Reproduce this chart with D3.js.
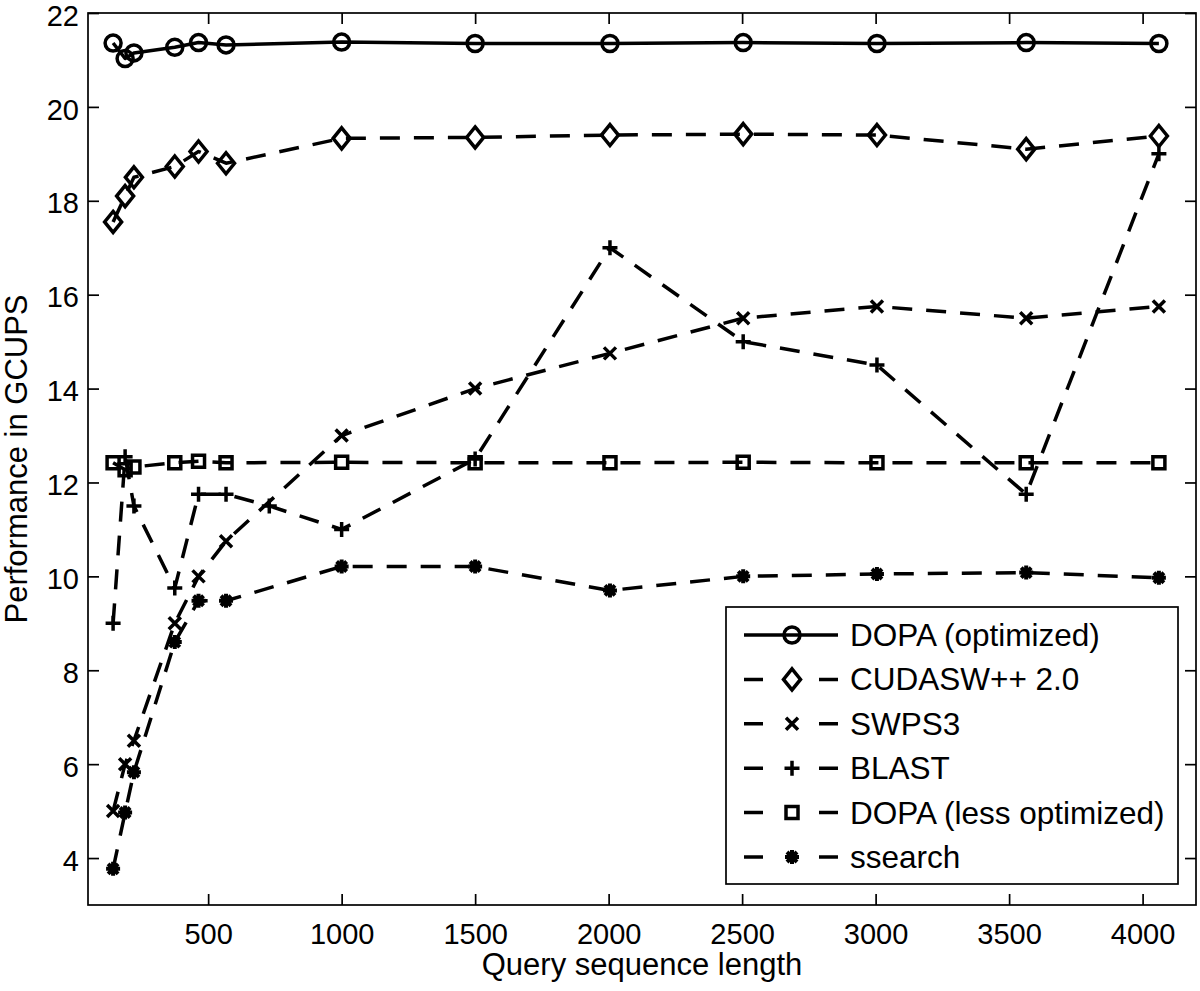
<!DOCTYPE html>
<html>
<head>
<meta charset="utf-8">
<script src="https://cdn.jsdelivr.net/npm/d3@7"></script>
<style>
  html, body { margin: 0; padding: 0; background: #fff; }
  svg text { font-family: "Liberation Sans", Arial, Helvetica, sans-serif; fill: #000; }
</style>
</head>
<body>
<div id="chart"></div>
<script>
'use strict';

// Query lengths (Swiss-Prot test queries)
const queryLengths = [144, 189, 222, 375, 464, 567, 1000, 1500, 2005, 2504, 3005, 3564, 4061];
const blastLengths = [144, 189, 222, 375, 464, 567, 729, 1000, 1500, 2005, 2504, 3005, 3564, 4061];

// GCUPS per tool
const dopaOptimized = [21.36, 21.03, 21.15, 21.27, 21.37, 21.32, 21.38, 21.35, 21.35, 21.37, 21.35, 21.37, 21.35];
const cudasw = [17.55, 18.1, 18.5, 18.73, 19.05, 18.8, 19.33, 19.35, 19.4, 19.42, 19.4, 19.1, 19.38];
const swps3 = [5.0, 6.0, 6.5, 9.0, 10.0, 10.75, 13.0, 14.0, 14.75, 15.5, 15.75, 15.5, 15.75];
const blast = [9.0, 12.55, 11.5, 9.75, 11.75, 11.75, 11.5, 11.0, 12.5, 17.0, 15.0, 14.5, 11.75, 19.0];
const dopaLess = [12.42, 12.27, 12.33, 12.42, 12.45, 12.42, 12.43, 12.42, 12.42, 12.43, 12.42, 12.42, 12.42];
const ssearch = [3.77, 4.97, 5.83, 8.6, 9.48, 9.48, 10.21, 10.21, 9.7, 10.0, 10.05, 10.08, 9.97];

const seriesNames = ['DOPA (optimized)', 'CUDASW++ 2.0', 'SWPS3', 'BLAST', 'DOPA (less optimized)', 'ssearch'];
const seriesMarkers = ['circle', 'diamond', 'x', 'plus', 'square', 'asterisk'];
const seriesDashed = [false, true, true, true, true, true];

const xTicks = [500, 1000, 1500, 2000, 2500, 3000, 3500, 4000];
const yTicks = [4, 6, 8, 10, 12, 14, 16, 18, 20, 22];

const series = [
  { xs: queryLengths, ys: dopaOptimized },
  { xs: queryLengths, ys: cudasw },
  { xs: queryLengths, ys: swps3 },
  { xs: blastLengths, ys: blast },
  { xs: queryLengths, ys: dopaLess },
  { xs: queryLengths, ys: ssearch },
].map((s, i) => ({
  name: seriesNames[i],
  marker: seriesMarkers[i],
  dashed: seriesDashed[i],
  points: s.xs.map((x, j) => ({ x, y: s.ys[j] })),
}));

const totalWidth = 1200;
const totalHeight = 991;

const margin = {
  top: 13,
  right: 4,
  bottom: 86,
  left: 88,
};

const width = totalWidth - margin.left - margin.right;
const height = totalHeight - margin.top - margin.bottom;

const svg = d3.select('#chart')
  .append('svg')
  .attr('width', totalWidth)
  .attr('height', totalHeight)
  .append('g')
  .attr('transform', `translate(${margin.left}, ${margin.top})`);

const xScale = d3.scaleLinear()
  .domain([50, 4200])
  .range([0, width]);

const yScale = d3.scaleLinear()
  .domain([3, 22])
  .range([height, 0]);

const tickLen = 11;
const axisStroke = 1.7;

// Bottom and left axes carry labels, ticks point inward
svg.append('g')
  .attr('transform', `translate(0, ${height})`)
  .call(d3.axisBottom(xScale)
    .tickValues(xTicks)
    .tickSize(-tickLen)
    .tickSizeOuter(0)
    .tickPadding(18)
    .tickFormat(d3.format('d')))
  .call((g) => g.select('.domain').remove());

svg.append('g')
  .attr('class', 'y-axis')
  .call(d3.axisLeft(yScale)
    .tickValues(yTicks)
    .tickSize(-tickLen)
    .tickSizeOuter(0)
    .tickPadding(9)
    .tickFormat(d3.format('d')))
  .call((g) => g.select('.domain').remove())
  .call((g) => g.selectAll('.tick text').attr('dy', '0.42em'));

// Mirror ticks on top and right, no labels
svg.append('g')
  .call(d3.axisTop(xScale)
    .tickValues(xTicks)
    .tickSize(-tickLen)
    .tickSizeOuter(0)
    .tickFormat(''))
  .call((g) => g.select('.domain').remove());

svg.append('g')
  .attr('transform', `translate(${width}, 0)`)
  .call(d3.axisRight(yScale)
    .tickValues(yTicks)
    .tickSize(-tickLen)
    .tickSizeOuter(0)
    .tickFormat(''))
  .call((g) => g.select('.domain').remove());

svg.selectAll('.tick line')
  .attr('stroke', '#000')
  .attr('stroke-width', axisStroke);

svg.selectAll('.tick text')
  .attr('font-size', 29)
  .attr('font-family', '"Liberation Sans", Arial, sans-serif');

// Box around the plot area
svg.append('rect')
  .attr('width', width)
  .attr('height', height)
  .attr('fill', 'none')
  .attr('stroke', '#000')
  .attr('stroke-width', axisStroke);

// Axis titles
svg.append('text')
  .attr('x', width / 2)
  .attr('y', height + 70)
  .attr('text-anchor', 'middle')
  .attr('font-size', 31)
  .text('Query sequence length');

svg.append('text')
  .attr('transform', `translate(${27 - margin.left}, ${height / 2}) rotate(-90)`)
  .attr('text-anchor', 'middle')
  .attr('font-size', 31)
  .text('Performance in GCUPS');

// Marker path builder (unfilled, MATLAB-like)
const markerPath = (type) => {
  switch (type) {
    case 'circle': {
      const r = 8;
      return `M${-r},0A${r},${r} 0 1,0 ${r},0A${r},${r} 0 1,0 ${-r},0Z`;
    }
    case 'diamond':
      return 'M0,-10.5L8.5,0L0,10.5L-8.5,0Z';
    case 'square':
      return 'M-6,-6H6V6H-6Z';
    case 'plus':
      return 'M-7.5,0H7.5M0,-7.5V7.5';
    case 'x':
      return 'M-6,-6L6,6M-6,6L6,-6';
    case 'asterisk':
      return 'M-7,0H7M0,-7V7M-5,-5L5,5M-5,5L5,-5';
    default:
      return '';
  }
};

const lineWidth = 3.5;
const dashPattern = '20,14';

const line = d3.line()
  .x((d) => xScale(d.x))
  .y((d) => yScale(d.y));

const plot = svg.append('g');

series.forEach((s) => {
  const g = plot.append('g');

  g.append('path')
    .datum(s.points)
    .attr('d', line)
    .attr('fill', 'none')
    .attr('stroke', '#000')
    .attr('stroke-width', lineWidth)
    .attr('stroke-linejoin', 'round')
    .attr('stroke-dasharray', s.dashed ? dashPattern : null);

  g.selectAll('path.marker')
    .data(s.points)
    .join('path')
    .attr('class', 'marker')
    .attr('transform', (d) => `translate(${xScale(d.x)}, ${yScale(d.y)})`)
    .attr('d', markerPath(s.marker))
    .attr('fill', 'none')
    .attr('stroke', '#000')
    .attr('stroke-width', s.marker === 'asterisk' ? 4 : lineWidth);
});

// Legend
const legendBox = { x: 726, y: 607, w: 452, h: 277 };
const legendRowGap = 44.4;

const legend = d3.select('#chart svg')
  .append('g')
  .attr('transform', `translate(${legendBox.x}, ${legendBox.y})`);

legend.append('rect')
  .attr('width', legendBox.w)
  .attr('height', legendBox.h)
  .attr('fill', '#fff')
  .attr('stroke', '#000')
  .attr('stroke-width', axisStroke);

series.forEach((s, i) => {
  const rowY = 28 + i * legendRowGap;
  const row = legend.append('g')
    .attr('transform', `translate(0, ${rowY})`);

  row.append('line')
    .attr('x1', 18)
    .attr('x2', 112)
    .attr('stroke', '#000')
    .attr('stroke-width', lineWidth)
    .attr('stroke-dasharray', s.dashed ? '19,56' : null);

  row.append('path')
    .attr('transform', 'translate(66, 0)')
    .attr('d', markerPath(s.marker))
    .attr('fill', 'none')
    .attr('stroke', '#000')
    .attr('stroke-width', s.marker === 'asterisk' ? 4 : lineWidth);

  row.append('text')
    .attr('x', 124)
    .attr('y', 11)
    .attr('font-size', 31.5)
    .text(s.name);
});
</script>
</body>
</html>
